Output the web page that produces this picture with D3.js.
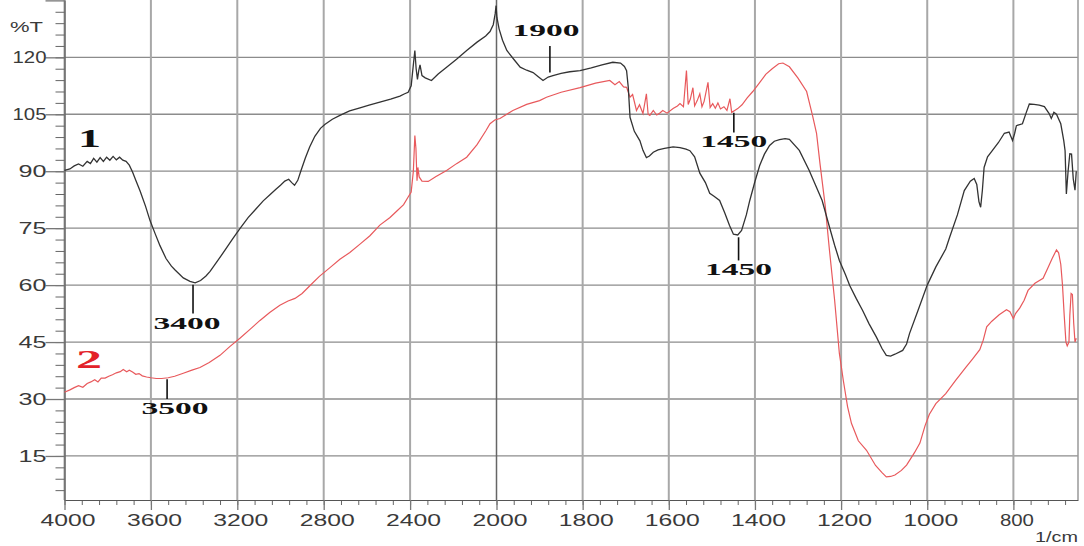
<!DOCTYPE html>
<html>
<head>
<meta charset="utf-8">
<script src="https://cdn.jsdelivr.net/npm/d3@7"></script>
<style>
  body { margin: 0; background: #fff; }
</style>
</head>
<body>
<div id="chart"></div>
<script>
// sample 1 (black trace): wavenumber (1/cm) and %T
var wn1 = [4000,3975,3955,3935,3915,3895,3880,3865,3850,3835,3820,3805,3790,3775,3760,3745,3730,3715,3700,3685,3670,3650,3625,3604,3580,3558,3530,3505,3488,3450,3419,3395,3370,3345,3326,3290,3257,3220,3188,3150,3118,3080,3049,3020,3000,2980,2962,2948,2935,2920,2905,2885,2865,2841,2815,2795,2760,2725,2680,2632,2590,2540,2490,2447,2425,2409,2395,2385,2378,2372,2366,2360,2354,2345,2330,2301,2270,2231,2185,2138,2090,2050,2030,2015,2006,2002,1999,1994,1986,1976,1960,1945,1930,1915,1903,1892,1880,1869,1850,1830,1806,1780,1755,1730,1712,1703,1698,1694,1690,1680,1667,1660,1652,1645,1636,1625,1610,1590,1574,1560,1551,1540,1528,1515,1505,1495,1482,1470,1459,1450,1440,1431,1420,1412,1400,1389,1378,1366,1355,1343,1330,1320,1297,1274,1260,1244,1227,1215,1204,1190,1180,1165,1150,1135,1118,1105,1095,1085,1075,1057,1048,1041,1020,1000,980,957,948,930,914,900,891,885,880,876,872,868,860,849,835,821,810,802,797,793,779,770,763,752,740,728,717,712,706,700,690,683,680,677,673,669,665,661,657,654];
var t1 = [90.2,90.6,91.4,91.9,91.3,92.6,92.0,93.4,92.4,93.6,92.6,93.7,92.9,93.9,93.0,93.7,92.9,92.6,91.6,89.8,87.6,84.8,80.8,77,73.5,70.4,67,65,64,61.9,61,60.6,61.2,62.4,63.6,66.5,69.2,72.3,74.9,77.8,79.8,82.2,83.8,85.3,86.3,87.4,87.9,87.0,86.3,87.6,90.2,93.5,96.4,99.2,101.3,102.3,103.7,104.7,105.9,106.7,107.4,108.2,109,109.8,110.4,110.8,112.5,118,121.8,117,114.2,116.5,118,115.2,114.6,113.9,115.6,117.4,119.5,121.8,124,125.6,126.8,128.6,131.5,133.6,130.5,127.5,124.5,121.8,119.5,117.4,116.6,116.0,114.9,113.9,114.8,115.2,115.8,116.2,116.5,117.2,118.0,118.7,118.5,117.6,116.5,112,104.2,100.5,98,95.5,93.6,94,95,95.6,96,96.4,96.2,95.8,95.4,93.8,89.5,87,84.2,83.4,82.3,79,75.7,73.4,73.2,74.4,78.5,82.3,87.3,91.5,94.5,96.8,97.9,98.3,98.6,98.4,95.5,90.2,86.5,82.3,75.3,70.5,66.5,62.8,59.9,56.5,53.3,49.8,46.3,43.3,41.5,41.3,41.8,42.8,44.5,47.3,53.8,60,64.8,69.5,72.6,78.5,84.9,87.4,88.1,86.5,82,80.5,85,91,93.8,95.4,97.5,100,100.3,98.1,100,102,102.5,105.5,107.7,107.6,107.4,107,105.2,103.9,105.5,105,102.5,98,95.4,84,90,94.6,94.5,88,85,90];

// sample 2 (red trace)
var wn2 = [4000,3975,3955,3935,3915,3895,3878,3860,3845,3830,3812,3795,3778,3760,3742,3728,3712,3700,3685,3670,3655,3640,3620,3600,3575,3550,3520,3490,3450,3410,3373,3330,3280,3235,3188,3140,3095,3050,3003,2965,2933,2900,2863,2820,2771,2725,2679,2632,2586,2540,2493,2460,2430,2409,2395,2385,2378,2373,2368,2364,2358,2345,2316,2280,2231,2185,2138,2090,2050,2030,2008,1992,1962,1930,1900,1884,1850,1806,1770,1737,1725,1715,1705,1698,1690,1684,1675,1668,1660,1652,1648,1644,1636,1628,1620,1614,1604,1590,1580,1574,1566,1559,1555,1550,1544,1540,1534,1528,1523,1518,1509,1504,1498,1492,1486,1480,1472,1465,1458,1454,1447,1440,1430,1418,1405,1390,1375,1360,1345,1335,1320,1300,1280,1266,1257,1249,1237,1227,1215,1204,1195,1185,1176,1160,1141,1120,1105,1095,1085,1075,1060,1048,1030,1017,1005,995,980,957,935,910,895,878,870,862,850,833,816,808,800,795,785,775,766,750,731,720,710,700,695,690,686,682,678,675,671,669,666,663,660,657,654];
var t2 = [31.8,32.4,33.0,33.5,33.1,34.1,34.5,35.1,34.5,35.5,35.5,36.0,36.4,36.9,37.2,37.8,37.2,37.6,37.1,36.5,36.7,36.1,35.8,35.6,35.4,35.4,35.6,36,36.8,37.6,38.3,39.6,41.5,43.8,46,48.4,50.7,52.8,54.7,55.8,56.5,57.8,59.9,62.3,64.6,66.8,68.6,70.8,73,75.8,77.8,79.6,81.2,83.2,84.5,90,99.4,96,87.5,91,88.5,87.4,87.3,88.6,90.2,92,93.7,97,100.6,102.5,103.5,103.9,106,107.6,108.6,109.5,110.8,112,113.2,113.9,112.8,113.6,112.2,112.1,109.5,110.2,106,107.5,105.2,110.4,105,104.7,106,104.8,105.4,106,105.3,106.5,107.2,107.8,107,116.5,107.6,109,112,107.2,108.6,110.4,107,108.4,113.4,106.8,107.8,106.6,108,106.4,107,106,109.1,105.5,106,106.5,107.5,109.3,111,113.2,115.5,117,118.3,118.5,117.5,114.5,111,104.5,100,92,81,69.2,56,42,35,28,23.6,19,16.5,12.5,10.6,9.5,9.6,10,11.2,12.6,15.8,18.4,23,26,28.8,31.4,34.8,38.4,40.5,43,45.5,49,50.5,52.2,53.5,53,51.2,52.5,54,56,58.6,60.5,61.8,64.5,67,69.3,68.5,65.5,60,52,45,44,45,52,57.8,57.5,50,45,46];

var xTicks = [4000,3600,3200,2800,2400,2000,1800,1600,1400,1200,1000,800];
var yTicks = [15,30,45,60,75,90,105,120,135];

// peak markers: label, wavenumber, %T at top and bottom of the marker stick
var peakLabels = ["3400","3500","1900","1450","1450"];
var peakWn     = [3405,3525,1876,1449,1438];
var peakTop    = [60.1,35.2,123.0,105.4,72.6];
var peakBottom = [52.5,30.0,116.0,100.2,66.5];

var seriesNames = ["1","2"];
var seriesColors = ["#333333","#e8595c"];

var width = 1084, height = 546;

var svg = d3.select("#chart")
  .append("svg")
  .attr("width", width)
  .attr("height", height)
  .style("font-family", "'Liberation Sans', Arial, sans-serif");

// FTIR style x axis: scale changes at 2000 1/cm
var x = d3.scaleLinear()
  .domain([4000, 2000, 650])
  .range([64.5, 496.5, 1078]);

var y = d3.scaleLinear()
  .domain([3.4, 135.1])
  .range([500, 0]);

// grid
svg.append("g")
  .selectAll("line")
  .data(yTicks.filter(d => d < 135))
  .enter()
  .append("line")
  .attr("x1", x(4000)).attr("x2", x(650))
  .attr("y1", d => y(d)).attr("y2", d => y(d))
  .attr("stroke", "#8c8c8c")
  .attr("stroke-width", 1.3);

svg.append("g")
  .selectAll("line")
  .data(xTicks)
  .enter()
  .append("line")
  .attr("x1", d => x(d)).attr("x2", d => x(d))
  .attr("y1", 0).attr("y2", y(3.4))
  .attr("stroke", d => d == 2000 ? "#666" : "#a8a8a8")
  .attr("stroke-width", d => d == 2000 ? 1.5 : 2);

// right border
svg.append("line")
  .attr("x1", x(650)).attr("x2", x(650))
  .attr("y1", 0).attr("y2", y(3.4))
  .attr("stroke", "#999")
  .attr("stroke-width", 1.5);

// minor ticks
var xMinor = d3.range(4000, 2000, -80).concat(d3.range(2000, 650, -40));
svg.append("g")
  .attr("transform", "translate(0," + y(3.4) + ")")
  .call(d3.axisBottom(x).tickValues(xMinor).tickSize(5).tickSizeOuter(0).tickFormat(""))
  .call(g => g.selectAll("line").attr("stroke", "#666"))
  .call(g => g.select(".domain").remove());

svg.append("g")
  .attr("transform", "translate(" + x(4000) + ",0)")
  .call(d3.axisLeft(y).tickValues(d3.range(6, 135, 3)).tickSize(9).tickSizeOuter(0).tickFormat(""))
  .call(g => g.selectAll("line").attr("stroke", "#666"))
  .call(g => g.select(".domain").remove());

// main axes
var xAxis = svg.append("g")
  .attr("transform", "translate(0," + y(3.4) + ")")
  .call(d3.axisBottom(x).tickValues(xTicks).tickSize(10).tickSizeOuter(0).tickPadding(4).tickFormat(d3.format("d")));

var yAxis = svg.append("g")
  .attr("transform", "translate(" + x(4000) + ",0)")
  .call(d3.axisLeft(y).tickValues(yTicks).tickSize(19).tickSizeOuter(0).tickPadding(-1));

[xAxis, yAxis].forEach(function (g) {
  g.select(".domain").attr("stroke", "#555").attr("stroke-width", 1.2);
  g.selectAll("line").attr("stroke", "#777").attr("stroke-width", 1.3);
  g.selectAll("text")
    .attr("fill", "#3a3a3a")
    .style("font-size", "17px")
    .attr("lengthAdjust", "spacingAndGlyphs")
    .attr("textLength", function (d) {
      var n = String(d).length;
      return n == 4 ? 55 : n == 3 ? 34 : 28;
    });
});
xAxis.selectAll("text").attr("dx", 3);
// the top label sits mostly above the visible area, as in the scan
yAxis.selectAll("text").filter(d => d == 135).attr("dy", "-0.25em");

// axis titles
svg.append("text")
  .attr("x", 10).attr("y", 32)
  .attr("fill", "#3a3a3a")
  .style("font-size", "15px")
  .attr("textLength", 33)
  .attr("lengthAdjust", "spacingAndGlyphs")
  .text("%T");

svg.append("text")
  .attr("x", 1035).attr("y", 542)
  .attr("fill", "#3a3a3a")
  .style("font-size", "14px")
  .attr("textLength", 43)
  .attr("lengthAdjust", "spacingAndGlyphs")
  .text("1/cm");

// spectra
var line = d3.line()
  .x(d => x(d[0]))
  .y(d => y(d[1]));

svg.append("path")
  .datum(d3.zip(wn2, t2))
  .attr("fill", "none")
  .attr("stroke", seriesColors[1])
  .attr("stroke-width", 1.2)
  .attr("d", line);

svg.append("path")
  .datum(d3.zip(wn1, t1))
  .attr("fill", "none")
  .attr("stroke", seriesColors[0])
  .attr("stroke-width", 1.3)
  .attr("d", line);

// peak markers
var peaks = peakLabels.map((p, i) => ({ label: p, wn: peakWn[i], top: peakTop[i], bottom: peakBottom[i], above: p == "1900" }));

svg.append("g")
  .selectAll("line")
  .data(peaks)
  .enter()
  .append("line")
  .attr("x1", d => x(d.wn)).attr("x2", d => x(d.wn))
  .attr("y1", d => y(d.top)).attr("y2", d => y(d.bottom))
  .attr("stroke", "#111")
  .attr("stroke-width", 1.6);

svg.append("g")
  .selectAll("text")
  .data(peaks)
  .enter()
  .append("text")
  .attr("x", (d, i) => x(d.wn) + [-6, 8, -4, 0, 0][i])
  .attr("y", d => d.above ? y(d.top) - 10 : y(d.bottom) + 15)
  .attr("text-anchor", "middle")
  .attr("fill", "#111")
  .style("font-family", "'Liberation Serif', 'Times New Roman', serif")
  .style("font-weight", "bold")
  .style("font-size", "17px")
  .attr("textLength", 67)
  .attr("lengthAdjust", "spacingAndGlyphs")
  .text(d => d.label);

// series numbers
svg.append("text")
  .attr("x", 78).attr("y", 147)
  .attr("fill", "#111")
  .style("font-family", "'Liberation Serif', 'Times New Roman', serif")
  .style("font-weight", "bold")
  .style("font-size", "26px")
  .attr("textLength", 23)
  .attr("lengthAdjust", "spacingAndGlyphs")
  .text(seriesNames[0]);

svg.append("text")
  .attr("x", 76).attr("y", 368)
  .attr("fill", "#e3222a")
  .style("font-family", "'Liberation Serif', 'Times New Roman', serif")
  .style("font-weight", "bold")
  .style("font-size", "26px")
  .attr("textLength", 26)
  .attr("lengthAdjust", "spacingAndGlyphs")
  .text(seriesNames[1]);
</script>
</body>
</html>
